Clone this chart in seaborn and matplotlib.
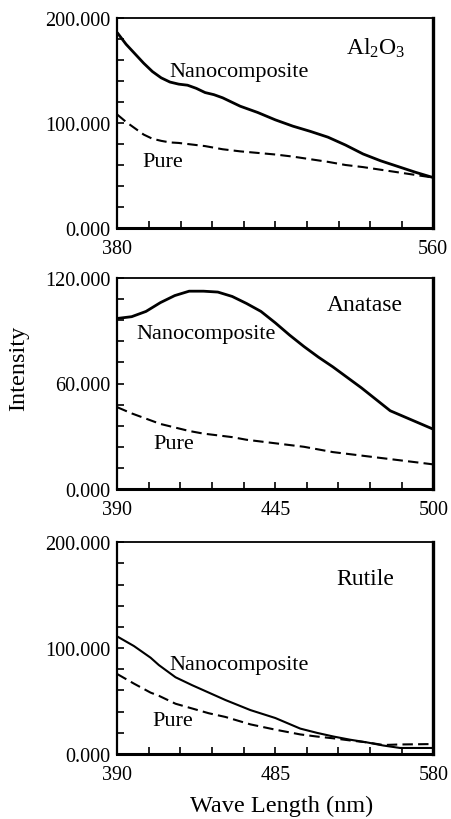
import numpy as np
import pandas as pd
import seaborn as sns
import matplotlib
matplotlib.use("Agg")
import matplotlib.pyplot as plt

# ---- spectra (wavelength in nm, intensity in a.u.) ----
al_wl = [380, 385, 390, 395, 400, 405, 410, 415, 420, 425, 430, 435, 440, 450,
         460, 470, 480, 490, 500, 510, 520, 530, 540, 550, 560]
al_nano = [186, 175, 166, 157, 149, 143, 139, 137, 136, 133, 129, 127, 124, 116,
           110, 103, 97, 92, 86.5, 79, 70.5, 64, 58.5, 53, 48]
al_pure = [108, 101, 95, 89, 85, 83, 81.5, 81, 80, 79, 78, 76.5, 75, 73,
           71.5, 70, 68, 65.5, 63, 60, 58, 55.5, 53, 50.5, 48]

an_wl = [390, 395, 400, 405, 410, 415, 420, 425, 430, 435, 440, 445, 450, 455,
         460, 465, 470, 475, 480, 485, 490, 495, 500]
an_nano = [97, 98, 101, 106, 110, 112.5, 112.5, 112, 109.5, 105.5, 101, 94.5,
           87.5, 81, 75, 69.5, 63.5, 57.5, 51, 44.5, 41, 37.5, 34]
an_pure = [46.5, 43, 40, 37, 35, 33, 31.5, 30.5, 29.5, 28, 27, 26, 25, 24,
           22.5, 21, 20, 19, 18, 17, 16, 15, 14]

ru_wl = [390, 400, 410, 415, 425, 435, 445, 455, 470, 485, 500, 510, 520, 530,
         540, 550, 560, 570, 580]
ru_nano = [111, 102, 91, 84, 72.5, 65, 58, 51, 41.5, 34, 24, 20, 16.5, 13.5,
           11, 8, 5.7, 5.7, 5.7]
ru_pure = [75.5, 66.5, 58, 55, 47.5, 43, 38.5, 35, 28, 23, 18.5, 16.5, 14.8,
           12.8, 11, 8.5, 9, 9.2, 9.4]

panel_names = [r"Al$\mathregular{_2}$O$\mathregular{_3}$", "Anatase", "Rutile"]
x_ranges = [(380, 560), (390, 500), (390, 580)]
y_maxes = [200, 120, 200]
x_labels = [[380, 440, 560], [390, 445, 500], [390, 485, 580]]
y_labels = [[0, 100, 200], [0, 60, 120], [0, 100, 200]]

# annotation anchors in data units: (name, nano, pure)
name_pos = [(527, 172), (476, 105), (539, 166)]
nano_pos = [(409.4, 149.5), (396.5, 88.2), (421.3, 85)]
pure_pos = [(394, 63), (402.4, 25.6), (411, 31.2)]

series = [(al_wl, al_nano, al_pure), (an_wl, an_nano, an_pure),
          (ru_wl, ru_nano, ru_pure)]

sns.set_theme(style="ticks")
plt.rcParams["font.family"] = ["Liberation Serif", "DejaVu Serif"]
plt.rcParams["mathtext.fontset"] = "custom"
plt.rcParams["mathtext.rm"] = "Liberation Serif"
plt.rcParams["text.color"] = "black"
plt.rcParams["axes.labelcolor"] = "black"
plt.rcParams["xtick.color"] = "black"
plt.rcParams["ytick.color"] = "black"

fig = plt.figure(figsize=(4.52, 8.2), dpi=100)
W, H = 452.0, 820.0
boxes = [(19, 229), (279, 490), (543.3, 755)]
left_px, right_px = 117.3, 433.3

for i, (top, bot) in enumerate(boxes):
    ax = fig.add_axes([left_px / W, 1 - bot / H, (right_px - left_px) / W,
                       (bot - top) / H])
    wl, nano, pure = series[i]
    df = pd.DataFrame({"wl": wl, "nano": nano, "pure": pure})
    sns.lineplot(data=df, x="wl", y="nano", ax=ax, color="black",
                 lw=2.0 if i < 2 else 1.5)
    sns.lineplot(data=df, x="wl", y="pure", ax=ax, color="black", lw=1.5,
                 linestyle=(0, (5, 2.5)))

    x0, x1 = x_ranges[i]
    ymax = y_maxes[i]
    ax.set_xlim(x0, x1)
    ax.set_ylim(0, ymax)

    xt = np.linspace(x0, x1, 11)
    ax.set_xticks(xt)
    ax.set_xticklabels([f"{v:.0f}" if round(v) in x_labels[i] else "" for v in xt])
    yt = np.linspace(0, ymax, 11)
    ax.set_yticks(yt)
    ax.set_yticklabels([f"{v:.3f}" if round(v) in y_labels[i] else "" for v in yt])
    ax.tick_params(direction="in", length=5, width=1.2, labelsize=14.5,
                   colors="black", labelcolor="black")
    ax.tick_params(axis="y", pad=5)
    ax.tick_params(axis="x", pad=8)
    ax.set_xlabel("")
    ax.set_ylabel("")

    for side, w in (("left", 1.6), ("top", 1.3), ("right", 2.4), ("bottom", 2.2)):
        ax.spines[side].set_visible(True)
        ax.spines[side].set_linewidth(w)
        ax.spines[side].set_color("black")

    ax.text(*name_pos[i], panel_names[i], ha="center", va="center",
            fontsize=17, color="black")
    ax.text(*nano_pos[i], "Nanocomposite", ha="left", va="center",
            fontsize=16, color="black")
    ax.text(*pure_pos[i], "Pure", ha="left", va="center", fontsize=16,
            color="black")

fig.text(19 / W, 1 - 368 / H, "Intensity", rotation=90, ha="center",
         va="center", fontsize=17.5, color="black")
fig.text(282 / W, 1 - 806 / H, "Wave Length (nm)", ha="center", va="center",
         fontsize=17.5, color="black")

fig.savefig("out.png", dpi=100)
